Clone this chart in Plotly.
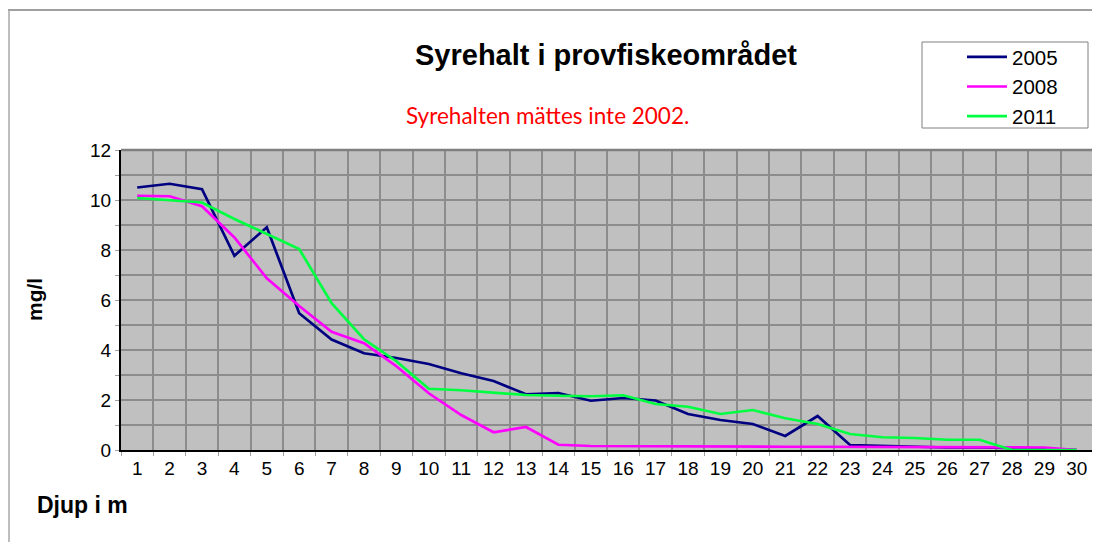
import plotly.graph_objects as go

depth = list(range(1, 31))
y2005 = [10.5, 10.65, 10.43, 7.77, 8.91, 5.47, 4.42, 3.87, 3.68, 3.44, 3.07, 2.76, 2.23, 2.28, 1.97,
         2.08, 1.98, 1.44, 1.2, 1.04, 0.56, 1.36, 0.2, 0.16, 0.12, 0.1, 0.1, 0.08, 0.05, 0.0]
y2008 = [10.17, 10.15, 9.75, 8.5, 6.87, 5.76, 4.73, 4.27, 3.35, 2.27, 1.4, 0.71, 0.92, 0.21, 0.16,
         0.15, 0.15, 0.14, 0.13, 0.13, 0.13, 0.13, 0.13, 0.13, 0.13, 0.12, 0.12, 0.1, 0.1, 0.0]
y2011 = [10.08, 10.0, 9.9, 9.24, 8.63, 8.04, 5.87, 4.43, 3.55, 2.45, 2.39, 2.31, 2.2, 2.17, 2.15,
         2.19, 1.84, 1.73, 1.44, 1.6, 1.27, 1.04, 0.64, 0.51, 0.48, 0.41, 0.41, 0.0, 0.0, 0.0]
series = [("2005", y2005, "#000080"), ("2008", y2008, "#FF00FF"), ("2011", y2011, "#00FF40")]

title_text = "Syrehalt i provfiskeområdet"
note_text = "Syrehalten mättes inte 2002."
y_title = "mg/l"
x_title = "Djup i m"

fig = go.Figure()
for name, vals, col in series:
    fig.add_trace(go.Scatter(x=depth, y=vals, mode="lines", name=name,
                             line=dict(color=col, width=2.7)))

OFF = 8  # page body margin
W, H = 1100 - OFF, 542 - OFF
L, R, T, B = 121 - OFF, 7, 150 - OFF, 92
pw, ph = W - L - R, H - T - B

def px(x):
    return (x - OFF - L) / pw

def py(y):
    return (H - B - (y - OFF)) / ph

fig.update_layout(
    width=W, height=H,
    margin=dict(l=L, r=R, t=T, b=B),
    paper_bgcolor="white",
    plot_bgcolor="#C0C0C0",
    font=dict(family="Arial, Liberation Sans, sans-serif", color="black", size=19),
    showlegend=True,
    legend=dict(x=px(962), y=py(37), xanchor="left", yanchor="top",
                bgcolor="rgba(0,0,0,0)", borderwidth=0,
                font=dict(size=20.5), tracegroupgap=0, itemwidth=40),
    xaxis=dict(range=[0.5, 30.5], tickmode="array", tickvals=depth,
               ticktext=[str(d) for d in depth], showgrid=False, zeroline=False,
               showline=True, linecolor="black", linewidth=2, ticks="",
               tickfont=dict(size=19),
               minor=dict(tick0=0.5, dtick=1, showgrid=True, gridcolor="#8C8C8C",
                          gridwidth=1.5, ticks="outside", ticklen=4, tickcolor="#A0A0A0")),
    yaxis=dict(range=[0, 12], tickmode="linear", tick0=0, dtick=2, showgrid=True,
               gridcolor="#8C8C8C", gridwidth=1.5, zeroline=False, showline=True,
               linecolor="black", linewidth=2, ticks="outside", ticklen=4,
               tickcolor="#A0A0A0", tickfont=dict(size=19),
               minor=dict(dtick=1, showgrid=True, gridcolor="#8C8C8C", gridwidth=1.5,
                          ticks="outside", ticklen=4, tickcolor="#A0A0A0")),
)

# plot area top/right border
fig.add_shape(type="line", xref="paper", yref="paper", x0=0, x1=1, y0=1, y1=1,
              line=dict(color="#7F7F7F", width=2.5))
fig.add_shape(type="line", xref="paper", yref="paper", x0=1, x1=1, y0=0, y1=1,
              line=dict(color="#7F7F7F", width=2))
# outer chart border (top and left)
fig.add_shape(type="line", xref="paper", yref="paper", x0=px(8), x1=px(1110),
              y0=py(10), y1=py(10), line=dict(color="#808080", width=1.5))
fig.add_shape(type="line", xref="paper", yref="paper", x0=px(9), x1=px(9),
              y0=py(10), y1=py(560), line=dict(color="#A8A8A8", width=1.5))
# legend box
fig.add_shape(type="rect", xref="paper", yref="paper", x0=px(922), x1=px(1088),
              y0=py(128), y1=py(42), line=dict(color="#808080", width=1))

fig.add_annotation(text="<b>" + title_text + "</b>", xref="paper", yref="paper",
                   x=px(606), y=py(55), showarrow=False, xanchor="center", yanchor="middle",
                   font=dict(size=29, family="Arial, Liberation Sans, sans-serif"))
fig.add_annotation(text=note_text, xref="paper", yref="paper",
                   x=px(547), y=py(115), showarrow=False, xanchor="center", yanchor="middle",
                   font=dict(size=22.5, family="Lato, Open Sans, sans-serif", color="#FF0000"))
fig.add_annotation(text="<b>" + y_title + "</b>", xref="paper", yref="paper",
                   x=px(34), y=py(300), showarrow=False, xanchor="center", yanchor="middle",
                   textangle=-90, font=dict(size=21))
fig.add_annotation(text="<b>" + x_title + "</b>", xref="paper", yref="paper",
                   x=px(35), y=py(505), showarrow=False, xanchor="left", yanchor="middle",
                   font=dict(size=23))

fig.write_html("out.html")
